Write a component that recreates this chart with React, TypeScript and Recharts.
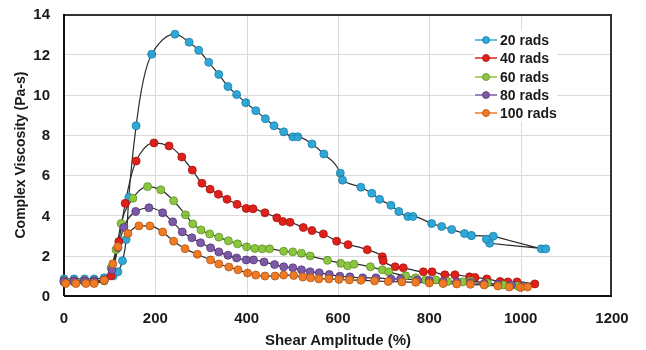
import React from 'react'
import { LineChart, Line, XAxis, YAxis } from 'recharts'

// [shear amplitude %, complex viscosity Pa-s]
const rads20: number[][] = [
    [0, 0.85], [22, 0.85], [45, 0.85], [66, 0.85], [88, 0.9], [108, 1.0], [118, 1.2], [128, 1.75],
    [136, 2.8], [142, 4.9], [158, 8.45], [192, 12.0], [243, 13.0], [274, 12.6], [295, 12.2],
    [317, 11.6], [339, 11.0], [359, 10.4], [378, 10.0], [398, 9.6], [420, 9.2], [441, 8.8],
    [460, 8.45], [481, 8.15], [501, 7.9], [512, 7.9], [543, 7.55], [569, 7.05], [605, 6.1],
    [610, 5.75], [650, 5.4], [674, 5.1], [691, 4.8], [716, 4.5], [733, 4.2], [753, 3.95],
    [764, 3.95], [805, 3.6], [827, 3.45], [849, 3.3], [877, 3.1], [892, 3.0],
]
// the end of the 20 rads run doubles back on itself
const rads20Tail: number[][] = [
    [892, 3.0], [940, 2.97], [1045, 2.34], [1055, 2.34], [932, 2.62], [925, 2.82],
]
const rads40: number[][] = [
    [0, 0.75], [22, 0.75], [45, 0.75], [66, 0.75], [88, 0.8], [103, 1.0], [120, 2.7], [134, 4.6],
    [158, 6.7], [197, 7.6], [230, 7.45], [258, 6.9], [281, 6.25], [302, 5.6], [320, 5.3],
    [338, 5.05], [357, 4.8], [379, 4.55], [399, 4.35], [414, 4.33], [440, 4.13], [466, 3.88],
    [479, 3.7], [495, 3.66], [524, 3.4], [543, 3.25], [568, 3.08], [597, 2.72], [622, 2.55],
    [664, 2.3], [697, 1.95], [699, 1.75], [725, 1.45], [743, 1.4], [787, 1.2], [806, 1.2],
    [834, 1.05], [856, 1.05], [888, 0.95], [900, 0.92], [926, 0.85], [955, 0.72], [972, 0.7],
    [992, 0.7], [1031, 0.6],
]
const rads60: number[][] = [
    [0, 0.7], [22, 0.7], [45, 0.7], [66, 0.7], [88, 0.75], [103, 1.4], [114, 2.3], [125, 3.6],
    [151, 4.85], [183, 5.43], [212, 5.27], [240, 4.73], [266, 4.03], [282, 3.58], [300, 3.28],
    [319, 3.08], [339, 2.92], [360, 2.74], [380, 2.59], [400, 2.44], [418, 2.36], [434, 2.34],
    [450, 2.34], [481, 2.22], [501, 2.19], [520, 2.12], [539, 1.99], [577, 1.77], [606, 1.62],
    [621, 1.5], [635, 1.58], [671, 1.45], [697, 1.3], [711, 1.2], [748, 1.0], [770, 0.9],
    [792, 0.8], [814, 0.8], [840, 0.72], [873, 0.7], [890, 0.74], [927, 0.65], [962, 0.55],
    [993, 0.5], [1004, 0.5],
]
const rads80: number[][] = [
    [0, 0.72], [22, 0.72], [45, 0.72], [66, 0.72], [88, 0.78], [105, 1.3], [118, 2.4], [131, 3.4],
    [157, 4.2], [186, 4.38], [216, 4.13], [238, 3.68], [259, 3.18], [280, 2.89], [299, 2.64],
    [321, 2.39], [339, 2.19], [359, 2.02], [378, 1.89], [399, 1.79], [415, 1.79], [438, 1.69],
    [461, 1.56], [481, 1.45], [501, 1.4], [520, 1.3], [539, 1.2], [559, 1.15], [581, 1.07],
    [604, 0.98], [626, 0.95], [654, 0.9], [683, 0.9], [716, 0.85], [737, 0.85], [774, 0.8],
    [800, 0.77], [830, 0.72], [860, 0.7], [890, 0.66], [920, 0.62], [950, 0.58], [980, 0.55],
    [1005, 0.5],
]
const rads100: number[][] = [
    [4, 0.62], [26, 0.62], [48, 0.62], [66, 0.62], [88, 0.78], [107, 1.6], [118, 2.45], [140, 3.1],
    [164, 3.48], [188, 3.48], [216, 3.18], [240, 2.72], [265, 2.35], [292, 2.07], [321, 1.79],
    [339, 1.59], [361, 1.44], [381, 1.3], [402, 1.14], [420, 1.04], [440, 0.99], [462, 0.99],
    [481, 1.04], [503, 1.02], [523, 0.94], [540, 0.9], [558, 0.85], [580, 0.85], [602, 0.82],
    [625, 0.8], [650, 0.78], [680, 0.75], [710, 0.72], [740, 0.7], [770, 0.68], [800, 0.65],
    [830, 0.62], [860, 0.6], [890, 0.58], [920, 0.55], [950, 0.5], [975, 0.45], [1000, 0.42],
    [1015, 0.45],
]

const seriesNames = ['20 rads', '40 rads', '60 rads', '80 rads', '100 rads']
const seriesColors = ['#2fa8d8', '#e0201b', '#8cc63f', '#7d5aa6', '#ee7b26']
const seriesEdges = ['#1b7fa8', '#a81512', '#5e9224', '#57397e', '#b95512']
const xTicks = [0, 200, 400, 600, 800, 1000, 1200]
const yTicks = [0, 2, 4, 6, 8, 10, 12, 14]
const xMax = 1200
const yMax = 14

const FONT = '"Liberation Sans", Arial, sans-serif'

// chart geometry, shared by the chart and the grid overlay
const W = 646
const H = 350
const M = { top: 14, right: 34, left: 0, bottom: 0 }
const Y_AXIS_W = 64
const X_AXIS_H = 54
const plotLeft = M.left + Y_AXIS_W
const plotTop = M.top
const plotW = W - M.left - M.right - Y_AXIS_W
const plotH = H - M.top - M.bottom - X_AXIS_H

const toPoints = (rows: number[][]) => rows.map(([x, y]) => ({ x, y }))

// grid + top/right frame laid over the chart; multiply blend keeps it behind-looking
const GridOverlay = () => (
    <div style={{ position: 'absolute', left: plotLeft, top: plotTop, width: plotW, height: plotH, pointerEvents: 'none', mixBlendMode: 'multiply', zIndex: 5 }}>
        {yTicks.slice(1, -1).map((v) => (
            <div key={'h' + v} style={{ position: 'absolute', left: 0, width: plotW, height: 1, background: '#dadada', top: Math.round(plotH - (v / yMax) * plotH) }} />
        ))}
        {xTicks.slice(1, -1).map((v) => (
            <div key={'v' + v} style={{ position: 'absolute', top: 0, height: plotH, width: 1, background: '#dadada', left: Math.round((v / xMax) * plotW) }} />
        ))}
        <div style={{ position: 'absolute', left: 0, top: 0, width: plotW, height: plotH, boxSizing: 'border-box', borderTop: '2px solid #333', borderRight: '2px solid #333' }} />
    </div>
)

// legend sits inside the plot, drawn as an overlay so it doesn't steal plot width
const LegendBox = () => (
    <div style={{ position: 'absolute', left: 474, top: 31, zIndex: 6, background: '#fff', fontFamily: FONT, fontWeight: 700, fontSize: 14, color: '#1a1a1a' }}>
        {seriesNames.map((name, i) => (
            <div key={name} style={{ display: 'flex', alignItems: 'center', height: 18.3 }}>
                <svg width={24} height={10} style={{ marginRight: 2 }}>
                    <line x1={1} y1={5} x2={23} y2={5} stroke={seriesColors[i]} strokeWidth={1.5} />
                    <circle cx={12} cy={5} r={3.5} fill={seriesColors[i]} stroke={seriesEdges[i]} strokeWidth={0.8} />
                </svg>
                <span>{name}</span>
            </div>
        ))}
    </div>
)

const App = () => {
    const all = [rads20, rads40, rads60, rads80, rads100]
    return (
        <div style={{ position: 'absolute', left: 0, top: 0, width: W, height: H, background: '#fff' }}>
            <div style={{ position: 'absolute', left: 0, top: 0, zIndex: 1 }}>
                <LineChart width={W} height={H} margin={M} style={{ background: 'transparent' }}>
                    <XAxis
                        type='number'
                        dataKey='x'
                        domain={[0, xMax]}
                        ticks={xTicks}
                        interval={0}
                        height={X_AXIS_H}
                        tickLine={false}
                        tickSize={6}
                        tickMargin={10}
                        axisLine={{ stroke: '#111', strokeWidth: 2 }}
                        tick={{ fill: '#1a1a1a', fontSize: 15, fontWeight: 700, fontFamily: FONT }}
                        label={{ value: 'Shear Amplitude (%)', position: 'insideBottom', offset: 5, fill: '#1a1a1a', fontSize: 15, fontWeight: 700, fontFamily: FONT }}
                    />
                    <YAxis
                        type='number'
                        domain={[0, yMax]}
                        ticks={yTicks}
                        interval={0}
                        width={Y_AXIS_W}
                        tickLine={false}
                        tickSize={6}
                        tickMargin={8}
                        axisLine={{ stroke: '#111', strokeWidth: 2 }}
                        tick={{ fill: '#1a1a1a', fontSize: 15, fontWeight: 700, fontFamily: FONT }}
                        label={{ value: 'Complex Viscosity (Pa-s)', angle: -90, position: 'center', dx: -12, fill: '#1a1a1a', fontSize: 14, fontWeight: 700, fontFamily: FONT }}
                    />
                    {all.map((rows, i) => (
                        <Line
                            key={seriesNames[i]}
                            name={seriesNames[i]}
                            data={toPoints(rows)}
                            dataKey='y'
                            type='monotone'
                            stroke='#2d2d2d'
                            strokeWidth={1.2}
                            dot={{ r: 4, fill: seriesColors[i], stroke: seriesEdges[i], strokeWidth: 0.8 }}
                            activeDot={false}
                            isAnimationActive={false}
                        />
                    ))}
                    <Line
                        name='20 rads tail'
                        data={toPoints(rads20Tail)}
                        dataKey='y'
                        type='linear'
                        stroke='#2d2d2d'
                        strokeWidth={1.2}
                        dot={{ r: 4, fill: seriesColors[0], stroke: seriesEdges[0], strokeWidth: 0.8 }}
                        activeDot={false}
                        legendType='none'
                        isAnimationActive={false}
                    />
                </LineChart>
            </div>
            <GridOverlay />
            <LegendBox />
        </div>
    )
}

export default App
